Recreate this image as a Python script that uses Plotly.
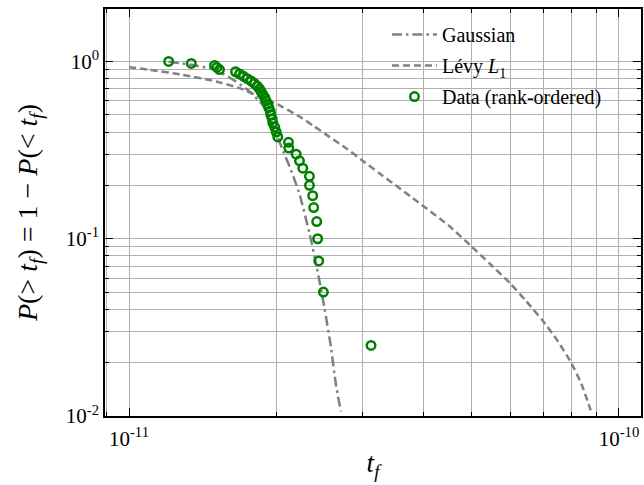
import plotly.graph_objects as go

# t_f values are given in units of 1e-11
T_UNIT = 1e-11

data_t = [1.205, 1.340, 1.495, 1.511, 1.530, 1.650, 1.681, 1.713, 1.743, 1.776,
          1.804, 1.827, 1.847, 1.861, 1.876, 1.893, 1.905, 1.920, 1.929, 1.942,
          1.947, 1.960, 1.966, 1.984, 1.997, 2.012, 2.116, 2.119, 2.194, 2.228,
          2.263, 2.335, 2.335, 2.371, 2.382, 2.416, 2.427, 2.439, 2.493, 3.119]
data_p = [1.0, 0.975, 0.95, 0.925, 0.9, 0.875, 0.85, 0.825, 0.8, 0.775,
          0.75, 0.725, 0.7, 0.675, 0.65, 0.625, 0.6, 0.575, 0.55, 0.525,
          0.5, 0.475, 0.45, 0.425, 0.4, 0.375, 0.35, 0.325, 0.3, 0.275,
          0.25, 0.225, 0.2, 0.175, 0.15, 0.125, 0.1, 0.075, 0.05, 0.025]

gauss_t = [1.205, 1.340, 1.495, 1.604, 1.745, 1.873, 1.935, 1.996, 2.059, 2.141,
           2.228, 2.335, 2.416, 2.504, 2.583, 2.643, 2.706]
gauss_p = [0.996, 0.958, 0.898, 0.812, 0.692, 0.569, 0.489, 0.395, 0.317, 0.244,
           0.179, 0.1073, 0.0693, 0.0412, 0.0245, 0.0152, 0.0106]

levy_t = [1.000, 1.102, 1.287, 1.507, 1.681, 1.846, 2.038, 2.228, 2.372, 2.565,
          2.774, 2.994, 3.243, 3.496, 3.791, 4.037, 4.505, 5.010, 5.434, 5.997,
          6.465, 6.977, 7.477, 7.972, 8.380, 8.756]
levy_p = [0.927, 0.898, 0.841, 0.771, 0.7075, 0.634, 0.562, 0.489, 0.436, 0.3755,
          0.324, 0.2765, 0.234, 0.201, 0.1698, 0.149, 0.1179, 0.0901, 0.0729, 0.0560,
          0.0445, 0.0347, 0.0268, 0.0202, 0.0152, 0.01077]

x_major = [1e-11, 1e-10]
x_major_text = ["10<sup>-11</sup>", "10<sup>-10</sup>"]
x_minor = [9e-12] + [k * 1e-11 for k in range(2, 10)]
y_major = [1e-2, 1e-1, 1e0]
y_major_text = ["10<sup>-2</sup>", "10<sup>-1</sup>", "10<sup>0</sup>"]
y_minor = [k * 1e-2 for k in range(2, 10)] + [k * 1e-1 for k in range(2, 10)]

GRAY = "#808080"
GREEN = "#008000"
GRID = "#b0b0b0"
FONT = "Liberation Serif"

fig = go.Figure()
fig.add_trace(go.Scatter(
    x=[t * T_UNIT for t in gauss_t], y=gauss_p, mode="lines", name="Gaussian",
    line=dict(color=GRAY, width=2.5, dash="10px,4px,2.5px,4px", shape="spline", smoothing=0.5),
    legendgroup="g1"))
fig.add_trace(go.Scatter(
    x=[t * T_UNIT for t in levy_t], y=levy_p, mode="lines", name="Lévy <i>L</i><sub>1</sub>",
    line=dict(color=GRAY, width=2.5, dash="7px,4px", shape="spline", smoothing=0.5),
    legendgroup="g2"))
fig.add_trace(go.Scatter(
    x=[t * T_UNIT for t in data_t], y=data_p, mode="markers", name="Data (rank-ordered)",
    marker=dict(symbol="circle-open", size=8.5, color=GREEN, line=dict(width=2.5, color=GREEN)),
    legendgroup="g3"))

axis_common = dict(
    type="log", showline=True, linecolor="black", linewidth=1.5, mirror="allticks",
    ticks="inside", ticklen=8, tickwidth=1.3, tickcolor="black",
    showgrid=True, gridcolor=GRID, gridwidth=1.3, zeroline=False, automargin=False,
    tickfont=dict(family=FONT, size=21, color="black"),
)

fig.update_xaxes(
    **axis_common, range=[-11.049, -9.955],
    tickmode="array", tickvals=x_major, ticktext=x_major_text, ticklabelstandoff=3,
    minor=dict(tickmode="array", tickvals=x_minor, ticks="inside", ticklen=4,
               tickwidth=1.1, tickcolor="black", showgrid=True,
               gridcolor=GRID, gridwidth=1.3),
    title=dict(text="<i>t<sub>f</sub></i>", font=dict(family=FONT, size=27, color="black"),
               standoff=3),
)
fig.update_yaxes(
    **axis_common, range=[-2, 0.296],
    tickmode="array", tickvals=y_major, ticktext=y_major_text, ticklabelstandoff=0,
    minor=dict(tickmode="array", tickvals=y_minor, ticks="inside", ticklen=4,
               tickwidth=1.1, tickcolor="black", showgrid=True,
               gridcolor=GRID, gridwidth=1.3),
    title=dict(text="<i>P</i>(&gt; <i>t<sub>f</sub></i>) = 1 − <i>P</i>(&lt; <i>t<sub>f</sub></i>)",
               font=dict(family=FONT, size=28, color="black"), standoff=20),
)

fig.update_layout(
    width=644, height=485,
    margin=dict(l=105, r=3, t=9, b=69),
    paper_bgcolor="white", plot_bgcolor="white",
    font=dict(family=FONT, size=20, color="black"),
    legend=dict(x=0.526, y=0.985, xanchor="left", yanchor="top",
                bgcolor="rgba(255,255,255,0)", borderwidth=0, itemwidth=45,
                font=dict(family=FONT, size=20, color="black"),
                traceorder="grouped", tracegroupgap=2),
    showlegend=True,
)

fig.write_html("out.html", config={"displayModeBar": False},
               post_script="document.body.style.margin='0px';")
